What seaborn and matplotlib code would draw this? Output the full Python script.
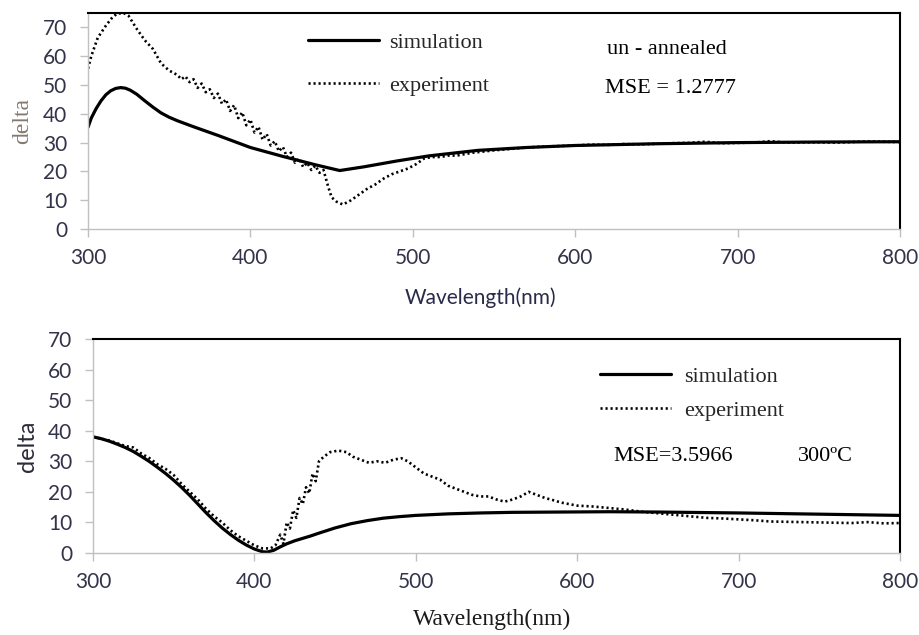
import matplotlib
matplotlib.use("Agg")
import matplotlib.pyplot as plt
import seaborn as sns

# ---------------- data ----------------
top_sim_wl = [300, 302, 305, 308, 311, 314, 317, 320, 323, 326, 330, 335, 340, 345, 350,
              355, 365, 380, 400, 420, 440, 455, 470, 490, 510, 540, 570, 600, 650, 700,
              750, 800]
top_sim_delta = [35.3, 38.5, 41.8, 44.5, 46.6, 48.0, 48.8, 49.1, 48.9, 48.2, 46.8, 44.5,
                 42.3, 40.3, 38.8, 37.6, 35.5, 32.5, 28.3, 25.2, 22.3, 20.3, 21.6, 23.6,
                 25.4, 27.3, 28.3, 29.0, 29.6, 30.0, 30.2, 30.3]

top_exp_wl = [300, 302, 306, 311, 315, 318, 322, 325, 330, 335, 340, 345, 350, 355,
              357.5, 360, 362.5, 365, 367.5, 370, 372.5, 375, 377.5, 380, 382.5, 385,
              387.5, 390, 392.5, 395, 397.5, 400, 402.5, 405, 407.5, 410, 412.5, 415,
              417.5, 420, 422.5, 425, 427.5, 430, 432.5, 435, 437.5, 440, 442.5, 445,
              448, 450, 453, 457, 462, 467, 472, 477, 482, 487, 492, 497, 502, 507, 512,
              517, 522, 527, 532, 537, 542, 550, 560, 570, 580, 590, 600, 610, 620, 630,
              640, 650, 660, 670, 680, 690, 700, 710, 720, 730, 740, 750, 760, 770, 780,
              790, 800]
top_exp_delta = [55.7, 60.0, 66.4, 70.6, 73.5, 74.8, 75.0, 74.0, 69.5, 65.5, 62.5, 57.5,
                 55.0, 53.5, 52.0, 53.0, 51.0, 52.0, 49.0, 50.5, 47.5, 48.5, 45.5, 47.0,
                 43.5, 45.0, 41.0, 43.0, 38.5, 40.5, 36.0, 38.0, 33.5, 35.5, 31.0, 33.0,
                 29.0, 30.5, 27.0, 28.5, 25.0, 26.5, 23.0, 24.5, 21.5, 23.0, 20.5, 22.0,
                 19.5, 20.5, 14.5, 11.0, 9.5, 8.5, 10.0, 12.0, 14.0, 15.5, 17.5, 19.0,
                 20.0, 21.0, 22.5, 24.5, 25.0, 25.0, 25.5, 25.5, 26.0, 26.5, 26.8, 27.3,
                 27.8, 28.3, 28.6, 28.8, 29.0, 29.3, 29.2, 29.5, 29.4, 29.6, 29.8, 29.9,
                 30.3, 29.8, 29.9, 30.0, 30.5, 30.0, 30.1, 30.1, 30.0, 30.2, 30.4, 30.3,
                 30.2]

bot_sim_wl = [300, 305, 310, 315, 320, 325, 330, 335, 340, 345, 350, 355, 360, 365, 370,
              375, 380, 385, 390, 395, 400, 405, 408, 412, 416, 420, 425, 430, 435, 440,
              450, 460, 470, 480, 490, 500, 520, 540, 560, 590, 620, 650, 700, 750, 800]
bot_sim_delta = [38.0, 37.4, 36.6, 35.6, 34.5, 33.2, 31.6, 29.9, 28.0, 26.0, 23.8, 21.4,
                 18.8, 16.0, 13.2, 10.6, 8.2, 6.1, 4.2, 2.6, 1.3, 0.4, 0.3, 0.9, 2.0, 3.0,
                 4.0, 4.8, 5.6, 6.5, 8.2, 9.6, 10.6, 11.4, 11.9, 12.3, 12.8, 13.1, 13.3,
                 13.4, 13.5, 13.4, 13.1, 12.7, 12.3]

bot_exp_wl = [300, 310, 320, 325, 330, 335, 340, 345, 350, 355, 360, 365, 370, 375, 380,
              385, 390, 395, 400, 405, 410, 413, 416, 418, 420, 422, 424, 426, 428, 430,
              432, 434, 436, 438, 440, 443, 447, 452, 457, 461, 466, 471, 476, 481, 486,
              491, 495, 500, 505, 510, 515, 520, 525, 530, 535, 540, 545, 550, 555, 560,
              565, 570, 575, 580, 585, 590, 595, 600, 610, 620, 630, 640, 650, 660, 670,
              680, 690, 700, 710, 720, 730, 740, 750, 760, 770, 780, 790, 800]
bot_exp_delta = [38.0, 36.8, 35.0, 34.5, 32.5, 31.0, 29.0, 27.5, 25.5, 22.5, 20.0, 17.5,
                 14.5, 12.0, 10.0, 7.5, 5.5, 4.0, 2.5, 1.5, 1.5, 2.5, 6.0, 3.0, 10.0, 8.0,
                 14.0, 11.5, 18.0, 16.0, 21.5, 19.5, 26.0, 23.5, 30.0, 31.5, 33.0, 33.5,
                 33.0, 31.5, 30.5, 29.5, 30.0, 29.5, 30.5, 31.0, 30.0, 28.0, 26.0, 25.0,
                 24.0, 22.0, 21.0, 20.0, 19.0, 18.5, 18.5, 17.5, 16.8, 17.5, 18.5, 20.0,
                 19.0, 18.0, 17.3, 16.5, 16.0, 15.5, 15.2, 14.7, 14.2, 13.5, 13.0, 12.5,
                 12.0, 11.5, 11.3, 11.0, 10.7, 10.3, 10.2, 10.1, 10.0, 9.9, 9.8, 10.1, 9.7,
                 9.8]

x_ticks = [300, 400, 500, 600, 700, 800]
y_ticks = [0, 10, 20, 30, 40, 50, 60, 70]
legend_labels = ["simulation", "experiment"]
top_notes = ["un - annealed", "MSE = 1.2777"]
bot_notes = ["MSE=3.5966", "300ºC"]

# ---------------- style ----------------
sns.set_theme(style="white")
plt.rcParams["font.family"] = ["Lato", "DejaVu Sans"]
SERIF = ["Liberation Serif", "DejaVu Serif"]
SANS = ["Lato", "DejaVu Sans"]
TICK_COLOR = "#33334a"
GRID_GRAY = "#c0c0c0"

fig = plt.figure(figsize=(9.2, 6.35), dpi=100)
ax1 = fig.add_axes([88 / 920, 1 - 229 / 635, 812 / 920, 216 / 635])
ax2 = fig.add_axes([93 / 920, 1 - 553 / 635, 807 / 920, 214 / 635])


def draw(ax, sim_wl, sim_d, exp_wl, exp_d):
    sns.lineplot(x=sim_wl, y=sim_d, ax=ax, color="black", linewidth=2.3, sort=True)
    sns.lineplot(x=exp_wl, y=exp_d, ax=ax, color="black", linewidth=1.9, sort=True,
                 linestyle=(0, (0.8, 1.1)))
    ax.set_xlim(300, 800)
    ax.set_xticks(x_ticks)
    ax.set_yticks(y_ticks)
    for s in ["top", "right"]:
        ax.spines[s].set_color("black")
        ax.spines[s].set_linewidth(1.5)
    for s in ["left", "bottom"]:
        ax.spines[s].set_color(GRID_GRAY)
        ax.spines[s].set_linewidth(1.0)
    ax.tick_params(axis="x", which="major", direction="out", length=6, width=1,
                   color=GRID_GRAY, pad=8, labelsize=15, labelcolor=TICK_COLOR,
                   bottom=True)
    ax.tick_params(axis="y", which="major", direction="out", length=6, width=1,
                   color=GRID_GRAY, pad=9, labelsize=15, labelcolor=TICK_COLOR,
                   left=True)
    for lab in ax.get_xticklabels() + ax.get_yticklabels():
        lab.set_family(SANS)


draw(ax1, top_sim_wl, top_sim_delta, top_exp_wl, top_exp_delta)
draw(ax2, bot_sim_wl, bot_sim_delta, bot_exp_wl, bot_exp_delta)
ax1.set_ylim(0, 75)
ax2.set_ylim(0, 70)

# axis labels
ax1.set_ylabel("delta", family=SERIF, fontsize=17, color="#85796f")
ax1.yaxis.set_label_coords(-0.068, 0.5)
ax1.set_xlabel("Wavelength(nm)", family=SANS, fontsize=15, color="#2a2a4a")
ax1.xaxis.set_label_coords(0.483, -0.27)

ax2.set_ylabel("delta", family=SANS, fontsize=17, color="#2a2a3a")
ax2.yaxis.set_label_coords(-0.068, 0.5)
ax2.set_xlabel("Wavelength(nm)", family=SERIF, fontsize=17, color="#1a1a1a")
ax2.xaxis.set_label_coords(0.494, -0.262)

# legends
leg_font = {"family": SERIF, "size": 16}
ax1.legend(handles=ax1.lines[:2], labels=legend_labels, loc="upper left",
           bbox_to_anchor=(0.271, 0.91), frameon=False, prop=leg_font,
           handlelength=3.2, handletextpad=0.45, labelspacing=1.0, borderpad=0,
           borderaxespad=0)
ax2.legend(handles=ax2.lines[:2], labels=legend_labels, loc="upper left",
           bbox_to_anchor=(0.628, 0.872), frameon=False, prop=leg_font,
           handlelength=3.2, handletextpad=0.6, labelspacing=0.6, borderpad=0,
           borderaxespad=0)

# annotations
ax1.text(0.713, 0.833, top_notes[0], transform=ax1.transAxes, ha="center", va="center",
         family=SERIF, fontsize=16, color="black")
ax1.text(0.717, 0.65, top_notes[1], transform=ax1.transAxes, ha="center", va="center",
         family=SERIF, fontsize=16, color="black")
ax2.text(0.719, 0.45, bot_notes[0], transform=ax2.transAxes, ha="center", va="center",
         family=SERIF, fontsize=16, color="black")
ax2.text(0.908, 0.45, bot_notes[1], transform=ax2.transAxes, ha="center", va="center",
         family=SERIF, fontsize=16, color="black")

fig.savefig("out.png", dpi=100, facecolor="white")
